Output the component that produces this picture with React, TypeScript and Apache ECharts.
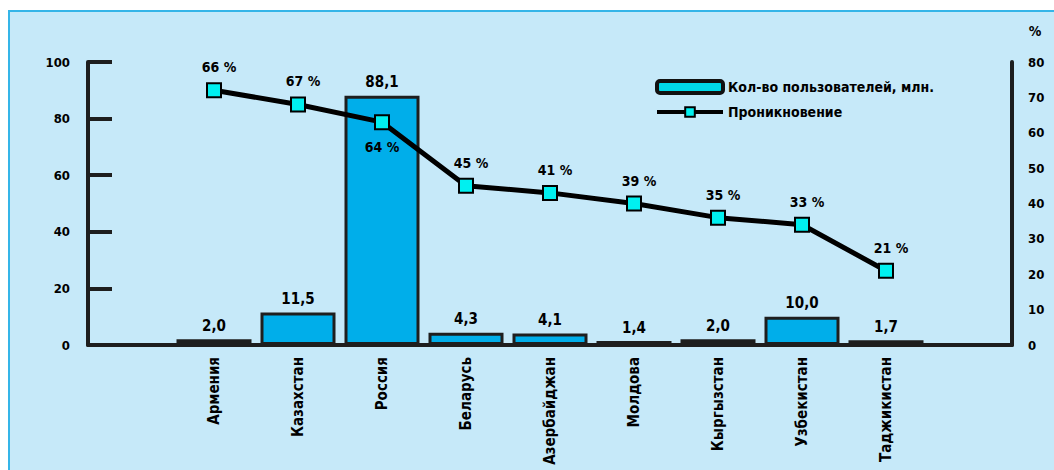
import React, { useEffect, useRef } from "react";
import * as echarts from "echarts";

const categories = ["", "Армения", "Казахстан", "Россия", "Беларусь", "Азербайджан", "Молдова", "Кыргызстан", "Узбекистан", "Таджикистан", ""];
const usersMln = [null, 2.0, 11.5, 88.1, 4.3, 4.1, 1.4, 2.0, 10.0, 1.7, null];
const penetration = [null, 72, 68, 63, 45, 43, 40, 36, 34, 21, null];
const penetrationLabels = ["", "66 %", "67 %", "64 %", "45 %", "41 %", "39 %", "35 %", "33 %", "21 %", ""];
const leftTicks = { min: 0, max: 100, interval: 20 };
const rightTicks = { min: 0, max: 80, interval: 10 };
const seriesNames = ["Кол-во пользователей, млн.", "Проникновение"];
const labelBelowIndex = [3];

const FONT = "'Liberation Sans Narrow', 'DejaVu Sans Condensed', 'Liberation Sans', Arial, sans-serif";

export default function App() {
  const ref = useRef<HTMLDivElement>(null);
  useEffect(() => {
    if (!ref.current) return;
    const chart = echarts.init(ref.current, undefined, { renderer: "svg" });
    const lineData = penetration.map((v, i) =>
      labelBelowIndex.includes(i)
        ? { value: v, label: { position: "bottom", distance: 10, offset: [0, 0] } }
        : { value: v }
    );
    chart.setOption({
      animation: false,
      backgroundColor: "transparent",
      textStyle: { fontFamily: FONT },
      grid: { left: 88, right: 42, top: 62, bottom: 125, containLabel: false, outerBoundsMode: "none" },
      legend: {
        orient: "vertical",
        left: 650,
        top: 74,
        itemWidth: 66,
        itemHeight: 12,
        itemGap: 10,
        data: [
          { name: seriesNames[0], itemStyle: { color: "#00D8E8", borderColor: "#111", borderWidth: 4 } },
          { name: seriesNames[1], lineStyle: { color: "#000", width: 4 }, itemStyle: { color: "#00F0F0", borderColor: "#000", borderWidth: 2 } },
        ],
        textStyle: { fontFamily: FONT, fontWeight: "bold", fontSize: 14, color: "#000" },
      },
      xAxis: {
        type: "category",
        data: categories,
        axisTick: { show: false },
        axisLine: { show: true, lineStyle: { color: "#1e1e1e", width: 4 } },
        axisLabel: {
          rotate: 90,
          interval: 0,
          margin: 12,
          color: "#000",
          fontWeight: "bold",
          fontSize: 15,
          fontFamily: FONT,
        },
        splitLine: { show: false },
      },
      yAxis: [
        {
          type: "value",
          position: "left",
          ...leftTicks,
          axisLine: { show: true, lineStyle: { color: "#1e1e1e", width: 4 } },
          axisTick: { show: true, inside: true, length: 24, lineStyle: { color: "#1e1e1e", width: 4 } },
          axisLabel: { margin: 18, color: "#000", fontSize: 13, fontWeight: "bold", fontFamily: FONT },
          splitLine: { show: false },
        },
        {
          type: "value",
          position: "right",
          ...rightTicks,
          name: "%",
          nameLocation: "end",
          nameGap: 24,
          nameTextStyle: { color: "#000", fontSize: 14, fontWeight: "bold", fontFamily: FONT, padding: [0, 0, 0, 46] },
          axisLine: { show: true, lineStyle: { color: "#1e1e1e", width: 4 } },
          axisTick: { show: false },
          axisLabel: { margin: 16, color: "#000", fontSize: 13, fontWeight: "bold", fontFamily: FONT },
          splitLine: { show: false },
        },
      ],
      series: [
        {
          name: seriesNames[0],
          type: "bar",
          data: usersMln,
          barWidth: 75,
          itemStyle: { color: "#00AEEA", borderColor: "#1e1e1e", borderWidth: 3 },
          label: {
            show: true,
            position: "top",
            distance: 6,
            color: "#000",
            fontWeight: "bold",
            fontSize: 15,
            fontFamily: FONT,
            formatter: (p: any) => (p.value == null ? "" : Number(p.value).toFixed(1).replace(".", ",")),
          },
        },
        {
          name: seriesNames[1],
          type: "line",
          yAxisIndex: 1,
          data: lineData,
          z: 5,
          symbol: "rect",
          symbolSize: 14,
          lineStyle: { color: "#000", width: 5 },
          itemStyle: { color: "#00F0F0", borderColor: "#000", borderWidth: 2 },
          label: {
            show: true,
            position: "top",
            distance: 8,
            offset: [5, 0],
            color: "#000",
            fontWeight: "bold",
            fontSize: 14,
            fontFamily: FONT,
            formatter: (p: any) => penetrationLabels[p.dataIndex],
          },
        },
      ],
    });
    return () => chart.dispose();
  }, []);

  return (
    <div style={{ position: "absolute", left: 0, top: 0, width: 1054, height: 470, background: "#fff", overflow: "hidden" }}>
      <div
        style={{
          position: "absolute",
          left: 8,
          top: 10,
          width: 1046,
          height: 460,
          background: "#C6E9F9",
          borderTop: "2px solid #35B5E8",
          borderLeft: "2px solid #35B5E8",
          boxSizing: "border-box",
        }}
      />
      <div ref={ref} style={{ position: "absolute", left: 0, top: 0, width: 1054, height: 470 }} />
    </div>
  );
}
